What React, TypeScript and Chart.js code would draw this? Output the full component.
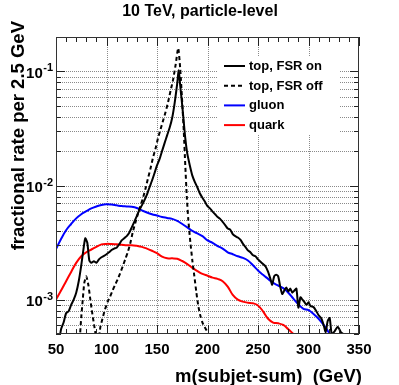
import React, { useEffect, useRef } from "react";
import { Chart, registerables } from "chart.js";

Chart.register(...registerables);

// ---------- text ----------
const TITLE = "10 TeV, particle-level";
const X_TITLE = "m(subjet-sum)  (GeV)";
const Y_TITLE = "fractional rate per 2.5 GeV";
const X_TICKS = [50, 100, 150, 200, 250, 300, 350];
const Y_DECADES = [-3, -2, -1];
const LEGEND_LABELS = ["top, FSR on", "top, FSR off", "gluon", "quark"];

const X_MIN = 50;
const X_MAX = 350;
const Y_MIN = 5e-4;
const Y_MAX = 0.2;

// ---------- data ----------
const topOnMass = [52.5, 55, 57.5, 60, 62.5, 65, 67.5, 70, 72.5, 75, 77.5, 79, 81, 83, 85, 87.5, 90, 92.5, 95, 97.5, 100, 102.5, 105, 107.5, 110, 112.5, 115, 117.5, 120, 122.5, 125, 127.5, 130, 132.5, 135, 137.5, 140, 142.5, 145, 147.5, 150, 152.5, 155, 157.5, 160, 162.5, 165, 167.5, 170, 171.5, 173, 175, 176.5, 178, 180, 182.5, 185, 187.5, 190, 192.5, 195, 197.5, 200, 202.5, 205, 207.5, 210, 212.5, 215, 217.5, 220, 222.5, 225, 227.5, 230, 232.5, 235, 237.5, 240, 242.5, 245, 247.5, 250, 252.5, 255, 257.5, 260, 262.5, 264, 266, 268, 270, 272, 274, 276, 278, 280, 282, 284, 286, 288, 290, 292, 294, 296, 298, 300, 302, 305, 307.5, 310, 312.5, 315, 317, 319, 321, 323, 326, 329, 332, 336];
const topOnRate = [4.0e-4, 5.5e-4, 6.3e-4, 7.6e-4, 7.9e-4, 9.0e-4, 1.0e-3, 1.15e-3, 1.45e-3, 2.0e-3, 2.9e-3, 3.45e-3, 3.15e-3, 2.2e-3, 2.1e-3, 2.17e-3, 2.1e-3, 2.25e-3, 2.35e-3, 2.42e-3, 2.5e-3, 2.6e-3, 2.72e-3, 2.8e-3, 2.85e-3, 3.05e-3, 3.3e-3, 3.45e-3, 3.6e-3, 3.85e-3, 4.3e-3, 4.8e-3, 5.4e-3, 6.1e-3, 6.7e-3, 7.4e-3, 8.3e-3, 9.6e-3, 1.1e-2, 1.28e-2, 1.5e-2, 1.7e-2, 2.0e-2, 2.35e-2, 2.75e-2, 3.2e-2, 3.9e-2, 5.3e-2, 7.8e-2, 0.102, 7.5e-2, 5.0e-2, 3.6e-2, 2.6e-2, 1.9e-2, 1.5e-2, 1.22e-2, 1.07e-2, 9.6e-3, 8.5e-3, 7.8e-3, 7.2e-3, 6.6e-3, 6.3e-3, 5.9e-3, 5.6e-3, 5.3e-3, 5.1e-3, 4.8e-3, 4.5e-3, 4.2e-3, 4.1e-3, 3.75e-3, 3.6e-3, 3.5e-3, 3.35e-3, 3.1e-3, 2.9e-3, 2.7e-3, 2.6e-3, 2.45e-3, 2.4e-3, 2.25e-3, 2.15e-3, 2.05e-3, 1.95e-3, 1.75e-3, 1.5e-3, 1.35e-3, 1.6e-3, 1.65e-3, 1.6e-3, 1.3e-3, 1.12e-3, 1.2e-3, 1.28e-3, 1.18e-3, 1.25e-3, 1.15e-3, 1.2e-3, 1.25e-3, 8.5e-4, 1.05e-3, 1.0e-3, 9.5e-4, 9.0e-4, 9.5e-4, 8.8e-4, 8.6e-4, 8.0e-4, 7.3e-4, 6.9e-4, 6.0e-4, 5.2e-4, 6.5e-4, 6.9e-4, 5.0e-4, 5.3e-4, 5.8e-4, 5.2e-4, 4.9e-4];

const topOffMass = [73.5, 75, 76.5, 78, 80, 82, 84, 86, 88, 90, 92, 94, 96, 98.5, 101, 103.5, 106, 108.5, 111, 113.5, 116, 118.5, 121, 123.5, 126, 128.5, 131, 133.5, 136, 138.5, 141, 143.5, 146, 148.5, 151, 153.5, 156, 158.5, 161, 163.5, 166, 168.5, 171, 173, 175, 176.5, 178, 179.5, 181, 183, 185, 187, 189, 191, 193, 195, 197, 199, 201, 203];
const topOffRate = [4.5e-4, 7.0e-4, 1.0e-3, 1.4e-3, 1.6e-3, 1.35e-3, 1.0e-3, 7.5e-4, 5.8e-4, 4.6e-4, 4.4e-4, 5.8e-4, 6.8e-4, 8.2e-4, 9.5e-4, 1.06e-3, 1.2e-3, 1.35e-3, 1.5e-3, 1.7e-3, 1.95e-3, 2.25e-3, 2.6e-3, 3.1e-3, 3.9e-3, 4.7e-3, 5.6e-3, 6.6e-3, 7.7e-3, 9.3e-3, 1.15e-2, 1.4e-2, 1.75e-2, 2.1e-2, 2.6e-2, 3.1e-2, 3.7e-2, 4.4e-2, 5.4e-2, 6.8e-2, 8.5e-2, 0.115, 0.16, 0.105, 5.3e-2, 3.0e-2, 1.5e-2, 8.0e-3, 5.0e-3, 3.2e-3, 2.2e-3, 1.6e-3, 1.15e-3, 8.7e-4, 7.2e-4, 6.3e-4, 5.8e-4, 5.4e-4, 5.0e-4, 4.5e-4];

const gluonMass = [50, 55, 60, 65, 70, 75, 80, 85, 90, 95, 100, 105, 110, 115, 120, 125, 130, 135, 140, 145, 150, 155, 160, 165, 170, 175, 180, 185, 190, 195, 200, 205, 210, 215, 220, 225, 230, 235, 240, 245, 250, 255, 260, 265, 270, 275, 280, 285, 290, 295, 300, 305, 310, 315, 320, 325];
const gluonRate = [2.77e-3, 3.4e-3, 4.05e-3, 4.6e-3, 5.15e-3, 5.6e-3, 5.95e-3, 6.3e-3, 6.55e-3, 6.75e-3, 6.85e-3, 6.8e-3, 6.7e-3, 6.6e-3, 6.55e-3, 6.5e-3, 6.35e-3, 6.05e-3, 5.8e-3, 5.6e-3, 5.45e-3, 5.3e-3, 5.2e-3, 5.1e-3, 4.9e-3, 4.6e-3, 4.3e-3, 4.0e-3, 3.8e-3, 3.6e-3, 3.3e-3, 3.15e-3, 2.95e-3, 2.8e-3, 2.6e-3, 2.5e-3, 2.4e-3, 2.32e-3, 2.2e-3, 2.0e-3, 1.8e-3, 1.65e-3, 1.52e-3, 1.4e-3, 1.33e-3, 1.26e-3, 1.15e-3, 1.02e-3, 9.1e-4, 8.3e-4, 8.1e-4, 7.5e-4, 6.8e-4, 6.0e-4, 5.2e-4, 4.5e-4];

const quarkMass = [50, 55, 60, 65, 70, 75, 80, 85, 90, 95, 100, 105, 110, 115, 120, 125, 130, 135, 140, 145, 150, 155, 160, 165, 170, 175, 180, 185, 190, 195, 200, 205, 210, 215, 220, 225, 230, 235, 240, 245, 250, 255, 260, 265, 270, 275, 280, 285, 288];
const quarkRate = [1.0e-3, 1.2e-3, 1.45e-3, 1.75e-3, 2.1e-3, 2.4e-3, 2.6e-3, 2.75e-3, 2.9e-3, 3.05e-3, 3.08e-3, 3.07e-3, 3.05e-3, 3.03e-3, 3.0e-3, 3.0e-3, 2.96e-3, 2.9e-3, 2.8e-3, 2.68e-3, 2.55e-3, 2.38e-3, 2.3e-3, 2.3e-3, 2.28e-3, 2.18e-3, 2.05e-3, 1.9e-3, 1.78e-3, 1.68e-3, 1.62e-3, 1.56e-3, 1.52e-3, 1.45e-3, 1.3e-3, 1.1e-3, 1.0e-3, 9.6e-4, 9.4e-4, 9.3e-4, 8.9e-4, 7.9e-4, 6.8e-4, 6.3e-4, 6.2e-4, 6.0e-4, 5.5e-4, 5.0e-4, 4.6e-4];

const FONT = "'Liberation Sans', Arial, Helvetica, sans-serif";

const pts = (xs: number[], ys: number[]) => xs.map((x, i) => ({ x, y: ys[i] }));

function line(ctx: CanvasRenderingContext2D, x1: number, y1: number, x2: number, y2: number) {
  ctx.beginPath();
  ctx.moveTo(x1, y1);
  ctx.lineTo(x2, y2);
  ctx.stroke();
}

const decorPlugin = {
  id: "rootDecor",
  beforeDatasetsDraw(chart: any) {
    const { ctx, chartArea: a, scales } = chart;
    const xs = scales.x;
    const ys = scales.y;
    ctx.save();
    ctx.strokeStyle = "#8a8a8a";
    ctx.lineWidth = 1;
    ctx.setLineDash([1, 1]);
    for (const v of X_TICKS) {
      if (v <= X_MIN || v >= X_MAX) continue;
      const px = Math.round(xs.getPixelForValue(v)) + 0.5;
      line(ctx, px, a.top, px, a.bottom);
    }
    for (let d = -4; d <= 0; d++) {
      for (let k = 1; k <= 9; k++) {
        const v = k * Math.pow(10, d);
        if (v <= Y_MIN * 1.0001 || v >= Y_MAX * 0.9999) continue;
        const py = Math.round(ys.getPixelForValue(v)) + 0.5;
        line(ctx, a.left, py, a.right, py);
      }
    }
    ctx.restore();
  },
  afterDatasetsDraw(chart: any) {
    const { ctx, chartArea: a, scales } = chart;
    const xs = scales.x;
    const ys = scales.y;
    ctx.save();
    ctx.setLineDash([]);
    ctx.strokeStyle = "#222";
    ctx.lineWidth = 1;

    // ticks (inward, all four sides)
    for (let v = X_MIN; v <= X_MAX; v += 10) {
      const px = Math.round(xs.getPixelForValue(v)) + 0.5;
      const major = v % 50 === 0;
      const len = major ? 9 : 5;
      line(ctx, px, a.bottom, px, a.bottom - len);
      line(ctx, px, a.top, px, a.top + len);
    }
    for (let d = -4; d <= 0; d++) {
      for (let k = 1; k <= 9; k++) {
        const v = k * Math.pow(10, d);
        if (v < Y_MIN || v > Y_MAX) continue;
        const py = Math.round(ys.getPixelForValue(v)) + 0.5;
        const len = k === 1 ? 9 : 5;
        line(ctx, a.left, py, a.left + len, py);
        line(ctx, a.right, py, a.right - len, py);
      }
    }

    // frame
    ctx.strokeStyle = "#333";
    ctx.strokeRect(a.left + 0.5, a.top + 0.5, a.right - a.left - 1, a.bottom - a.top - 1);

    ctx.fillStyle = "#000";
    // x tick labels
    ctx.font = `bold 15px ${FONT}`;
    ctx.textAlign = "center";
    ctx.textBaseline = "alphabetic";
    for (const v of X_TICKS) {
      ctx.fillText(String(v), xs.getPixelForValue(v), 354);
    }

    // y tick labels 10^n
    for (const d of Y_DECADES) {
      const py = ys.getPixelForValue(Math.pow(10, d));
      const sup = String(d);
      ctx.font = `bold 11px ${FONT}`;
      ctx.textAlign = "right";
      const sw = ctx.measureText(sup).width;
      const rx = a.left - 3;
      ctx.fillText(sup, rx, py + 0);
      ctx.font = `bold 15px ${FONT}`;
      ctx.fillText("10", rx - sw - 0.5, py + 6.5);
    }

    // title
    ctx.font = `bold 16px ${FONT}`;
    ctx.textAlign = "center";
    ctx.fillText(TITLE, 200, 16);

    // x title
    ctx.font = `bold 18.5px ${FONT}`;
    ctx.textAlign = "right";
    ctx.fillText(X_TITLE, 362, 382);

    // y title
    ctx.save();
    ctx.translate(24, 21);
    ctx.rotate(-Math.PI / 2);
    ctx.font = `bold 18.5px ${FONT}`;
    ctx.textAlign = "right";
    ctx.fillText(Y_TITLE, 0, 0);
    ctx.restore();

    // legend
    ctx.fillStyle = "#fff";
    ctx.fillRect(218, 57, 121, 78);
    const ds = chart.data.datasets;
    const rowY = [66, 85.7, 105.4, 125.1];
    ctx.font = `bold 13px ${FONT}`;
    ctx.textAlign = "left";
    ctx.textBaseline = "middle";
    for (let i = 0; i < ds.length; i++) {
      const yy = rowY[i];
      ctx.strokeStyle = ds[i].borderColor;
      ctx.lineWidth = 2;
      ctx.setLineDash(ds[i].borderDash || []);
      line(ctx, 224, yy, 245, yy);
      ctx.setLineDash([]);
      ctx.fillStyle = "#000";
      ctx.fillText(ds[i].label, 249, yy + 0.5);
    }
    ctx.restore();
  },
};

export default function App() {
  const ref = useRef<HTMLCanvasElement | null>(null);
  useEffect(() => {
    if (!ref.current) return;
    const chart = new Chart(ref.current, {
      type: "line",
      data: {
        datasets: [
          {
            label: LEGEND_LABELS[0],
            data: pts(topOnMass, topOnRate),
            borderColor: "#000000",
            borderWidth: 2,
            pointRadius: 0,
            tension: 0.2,
            fill: false,
          },
          {
            label: LEGEND_LABELS[1],
            data: pts(topOffMass, topOffRate),
            borderColor: "#000000",
            borderWidth: 2,
            borderDash: [4, 3],
            pointRadius: 0,
            tension: 0.2,
            fill: false,
          },
          {
            label: LEGEND_LABELS[2],
            data: pts(gluonMass, gluonRate),
            borderColor: "#0000ff",
            borderWidth: 2,
            pointRadius: 0,
            tension: 0.4,
            fill: false,
          },
          {
            label: LEGEND_LABELS[3],
            data: pts(quarkMass, quarkRate),
            borderColor: "#ff0000",
            borderWidth: 2,
            pointRadius: 0,
            tension: 0.4,
            fill: false,
          },
        ],
      },
      options: {
        responsive: false,
        animation: false,
        events: [],
        layout: { padding: { left: 56, top: 37, right: 40, bottom: 51 } },
        scales: {
          x: { type: "linear", min: X_MIN, max: X_MAX, display: false },
          y: { type: "logarithmic", min: Y_MIN, max: Y_MAX, display: false },
        },
        plugins: {
          legend: { display: false },
          tooltip: { enabled: false },
          title: { display: false },
        },
      },
      plugins: [decorPlugin],
    });
    return () => chart.destroy();
  }, []);
  return (
    <div style={{ position: "fixed", left: 0, top: 0, width: 399, height: 385, background: "#fff" }}>
      <canvas ref={ref} width={399} height={385} style={{ width: 399, height: 385, display: "block" }} />
    </div>
  );
}
